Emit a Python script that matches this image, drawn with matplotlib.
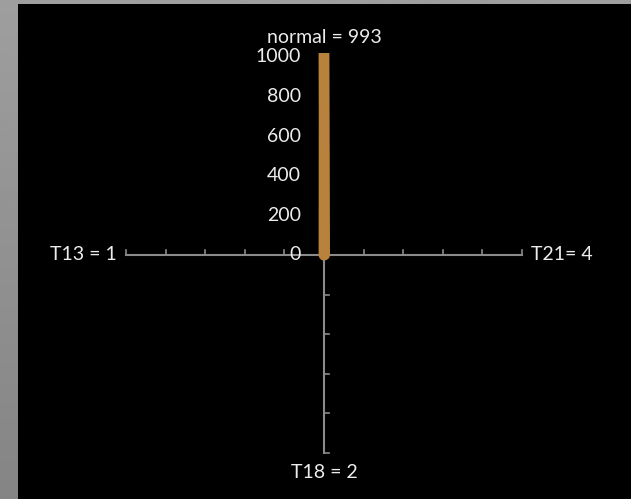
import numpy as np
import matplotlib
matplotlib.use('Agg')
import matplotlib.pyplot as plt

# radar data (clockwise from top)
categories = ['normal', 'T21', 'T18', 'T13']
values = [993, 4, 2, 1]
labels = ['normal = 993', 'T21= 4', 'T18 = 2', 'T13 = 1']
ticks = [0, 200, 400, 600, 800, 1000]
rmax = 1000

line_color = '#B8823C'
axis_color = '#8a8a8a'
text_color = '#ececec'
font = 'Lato'
fs = 14

fig = plt.figure(figsize=(6.31, 4.99), dpi=100)

# grey gradient backdrop
bg = fig.add_axes([0, 0, 1, 1])
grad = np.linspace(0.62, 0.52, 200).reshape(-1, 1)
bg.imshow(grad, cmap='gray', vmin=0, vmax=1, aspect='auto', extent=[0, 1, 0, 1])
bg.axis('off')

# black chart area
ax = fig.add_axes([18 / 631, 0, 613 / 631, 495 / 499])
ax.set_facecolor('black')
scale = 0.198  # px per unit
ax.set_xlim(-306 / scale, 307 / scale)
ax.set_ylim(-244 / scale, 251 / scale)
for s in ax.spines.values():
    s.set_visible(False)
ax.set_xticks([])
ax.set_yticks([])

# spokes: angle measured clockwise from top
angles = np.pi / 2 - np.arange(len(categories)) * 2 * np.pi / len(categories)
tick_len = 25
for a in angles:
    dx, dy = np.cos(a), np.sin(a)
    ax.plot([0, rmax * dx], [0, rmax * dy], color=axis_color, lw=1.5, zorder=1)
    # tick direction: perpendicular to the spoke
    if abs(dy) < 0.5:
        tx, ty = 0, 1          # horizontal spokes -> ticks up
    elif dy < 0:
        tx, ty = 1, 0          # bottom spoke -> ticks right
    else:
        tx, ty = -1, 0         # top spoke -> ticks left
    for t in ticks[1:]:
        px, py = t * dx, t * dy
        ln = tick_len if dy <= 0 or abs(dy) < 0.5 else 15
        ax.plot([px, px + ln * tx], [py, py + ln * ty], color=axis_color, lw=1.2, zorder=1)

# radial tick labels on the top spoke
for t in ticks:
    ax.text(-115, t, str(t), color=text_color, fontsize=fs, family=font,
            ha='right', va='center')

# data polygon
xs = [v * np.cos(a) for v, a in zip(values, angles)]
ys = [v * np.sin(a) for v, a in zip(values, angles)]
xs.append(xs[0])
ys.append(ys[0])
ax.plot(xs, ys, color=line_color, lw=7.5, zorder=3)

# category labels
ax.text(0, rmax + 55, labels[0], color=text_color, fontsize=fs, family=font,
        ha='center', va='bottom')
ax.text(rmax + 45, 0, labels[1], color=text_color, fontsize=fs, family=font,
        ha='left', va='center')
ax.text(0, -rmax - 55, labels[2], color=text_color, fontsize=fs, family=font,
        ha='center', va='top')
ax.text(-rmax - 45, 0, labels[3], color=text_color, fontsize=fs, family=font,
        ha='right', va='center')

fig.savefig('out.png', dpi=100, facecolor=fig.get_facecolor())
